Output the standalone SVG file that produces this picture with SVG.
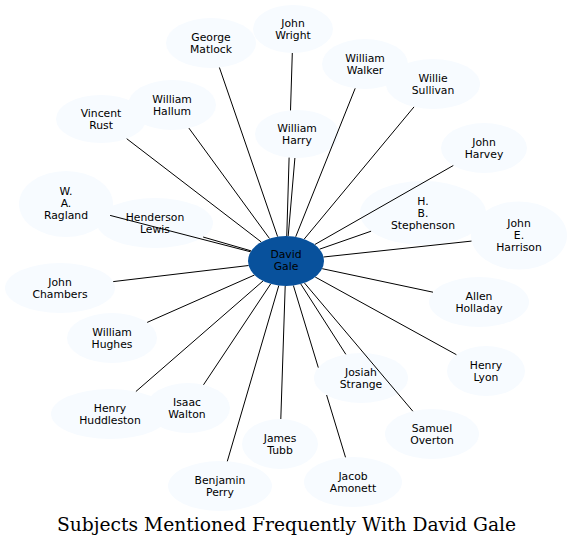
<svg xmlns="http://www.w3.org/2000/svg" width="572" height="547" viewBox="0 0 572 547">
<style>
.n ellipse{fill:#f7fbff;stroke:none}
.c ellipse{fill:#08519c;stroke:none}
text{font-family:"DejaVu Sans","Liberation Sans",sans-serif;font-size:10.8px;text-anchor:middle;fill:#000}
.edges line{stroke:#000;stroke-width:1;fill:none}
.title{font-family:"DejaVu Serif","Liberation Serif",serif;font-size:18.7px}
</style>
<rect width="572" height="547" fill="#fff"/>
<g id="node-george-matlock" class="n"><ellipse cx="211" cy="43" rx="45" ry="25"/><text x="211" y="40.5">George</text><text x="211" y="52.5">Matlock</text></g>
<g id="node-john-wright" class="n"><ellipse cx="293" cy="29" rx="40" ry="24"/><text x="293" y="26.5">John</text><text x="293" y="38.5">Wright</text></g>
<g id="node-william-walker" class="n"><ellipse cx="365" cy="64" rx="43" ry="25"/><text x="365" y="61.5">William</text><text x="365" y="73.5">Walker</text></g>
<g id="node-willie-sullivan" class="n"><ellipse cx="433" cy="84" rx="47" ry="25"/><text x="433" y="81.5">Willie</text><text x="433" y="93.5">Sullivan</text></g>
<g id="node-john-harvey" class="n"><ellipse cx="484" cy="148" rx="43" ry="25"/><text x="484" y="145.5">John</text><text x="484" y="157.5">Harvey</text></g>
<g id="node-william-harry" class="n"><ellipse cx="297" cy="134" rx="42" ry="24"/><text x="297" y="131.5">William</text><text x="297" y="143.5">Harry</text></g>
<g id="node-vincent-rust" class="n"><ellipse cx="101" cy="119" rx="45" ry="24"/><text x="101" y="116.5">Vincent</text><text x="101" y="128.5">Rust</text></g>
<g id="node-william-hallum" class="n"><ellipse cx="172" cy="105" rx="44" ry="25"/><text x="172" y="102.5">William</text><text x="172" y="114.5">Hallum</text></g>
<g id="node-henderson-lewis" class="n"><ellipse cx="155" cy="223" rx="58" ry="25"/><text x="155" y="220.5">Henderson</text><text x="155" y="232.5">Lewis</text></g>
<g id="node-w-a-ragland" class="n"><ellipse cx="66" cy="204" rx="47" ry="33"/><text x="66" y="194.5">W.</text><text x="66" y="206.5">A.</text><text x="66" y="218.5">Ragland</text></g>
<g id="node-h-b-stephenson" class="n"><ellipse cx="423" cy="213" rx="63" ry="32"/><text x="423" y="205">H.</text><text x="423" y="217">B.</text><text x="423" y="229">Stephenson</text></g>
<g id="node-john-e-harrison" class="n"><ellipse cx="519" cy="235.5" rx="48" ry="34"/><text x="519" y="227">John</text><text x="519" y="239">E.</text><text x="519" y="251">Harrison</text></g>
<g id="node-john-chambers" class="n"><ellipse cx="60" cy="288" rx="55" ry="25"/><text x="60" y="285.5">John</text><text x="60" y="297.5">Chambers</text></g>
<g id="node-allen-holladay" class="n"><ellipse cx="479" cy="302" rx="50" ry="25"/><text x="479" y="299.5">Allen</text><text x="479" y="311.5">Holladay</text></g>
<g id="node-william-hughes" class="n"><ellipse cx="112" cy="338" rx="45" ry="25"/><text x="112" y="335.5">William</text><text x="112" y="347.5">Hughes</text></g>
<g id="node-henry-lyon" class="n"><ellipse cx="486" cy="371" rx="39" ry="25"/><text x="486" y="368.5">Henry</text><text x="486" y="380.5">Lyon</text></g>
<g id="node-henry-huddleston" class="n"><ellipse cx="110" cy="414" rx="59" ry="25"/><text x="110" y="411.5">Henry</text><text x="110" y="423.5">Huddleston</text></g>
<g id="node-isaac-walton" class="n"><ellipse cx="188" cy="408" rx="42" ry="25"/><text x="187" y="405.5">Isaac</text><text x="187" y="417.5">Walton</text></g>
<g id="node-josiah-strange" class="n"><ellipse cx="361" cy="378" rx="47" ry="25"/><text x="361" y="375.5">Josiah</text><text x="361" y="387.5">Strange</text></g>
<g id="node-samuel-overton" class="n"><ellipse cx="432" cy="434" rx="47" ry="25"/><text x="432" y="431.5">Samuel</text><text x="432" y="443.5">Overton</text></g>
<g id="node-james-tubb" class="n"><ellipse cx="280" cy="444" rx="38" ry="25"/><text x="280" y="441.5">James</text><text x="280" y="453.5">Tubb</text></g>
<g id="node-benjamin-perry" class="n"><ellipse cx="220" cy="486" rx="52" ry="25"/><text x="220" y="483.5">Benjamin</text><text x="220" y="495.5">Perry</text></g>
<g id="node-jacob-amonett" class="n"><ellipse cx="353" cy="482" rx="49" ry="25"/><text x="353" y="479.5">Jacob</text><text x="353" y="491.5">Amonett</text></g>
<g id="connectors" class="edges">
<line x1="277.6" y1="236.6" x2="219.4" y2="67.5"/>
<line x1="286.75" y1="236" x2="289.1" y2="157.6"/>
<line x1="290.5" y1="110.4" x2="292.3" y2="53"/>
<line x1="288.2" y1="236" x2="294.9" y2="158"/>
<line x1="295.7" y1="236.8" x2="355.2" y2="88.3"/>
<line x1="304.2" y1="239.1" x2="414" y2="106.9"/>
<line x1="314.7" y1="244.6" x2="453.3" y2="165.5"/>
<line x1="319.5" y1="249.2" x2="371.1" y2="231.2"/>
<line x1="323.5" y1="257" x2="471.5" y2="241.1"/>
<line x1="322.2" y1="268.7" x2="433" y2="292.2"/>
<line x1="315.2" y1="277" x2="456.4" y2="354.7"/>
<line x1="304.4" y1="282.9" x2="412.8" y2="411.2"/>
<line x1="300.8" y1="284" x2="345.8" y2="354.3"/>
<line x1="293.4" y1="285.5" x2="318.3" y2="367.6"/>
<line x1="326.6" y1="395" x2="345.5" y2="457.3"/>
<line x1="285.2" y1="286" x2="280.8" y2="419"/>
<line x1="278.8" y1="285.5" x2="227.3" y2="461.3"/>
<line x1="270.7" y1="283.9" x2="203.5" y2="384.8"/>
<line x1="263.1" y1="280.9" x2="135.9" y2="391.5"/>
<line x1="254.5" y1="275" x2="147.2" y2="322.4"/>
<line x1="248.6" y1="265.5" x2="113.2" y2="281.6"/>
<line x1="250.6" y1="251.8" x2="110.1" y2="215.4"/>
<line x1="251.2" y1="250.9" x2="203.1" y2="237"/>
<line x1="261.3" y1="242" x2="126.7" y2="138.7"/>
<line x1="269.5" y1="238.5" x2="188.9" y2="128.1"/>
</g>
<g id="node-david-gale" class="c"><ellipse cx="286" cy="261" rx="38" ry="25"/><text x="286" y="258">David</text><text x="286" y="270">Gale</text></g>
<text class="title" x="286.5" y="531">Subjects Mentioned Frequently With David Gale</text>
</svg>
